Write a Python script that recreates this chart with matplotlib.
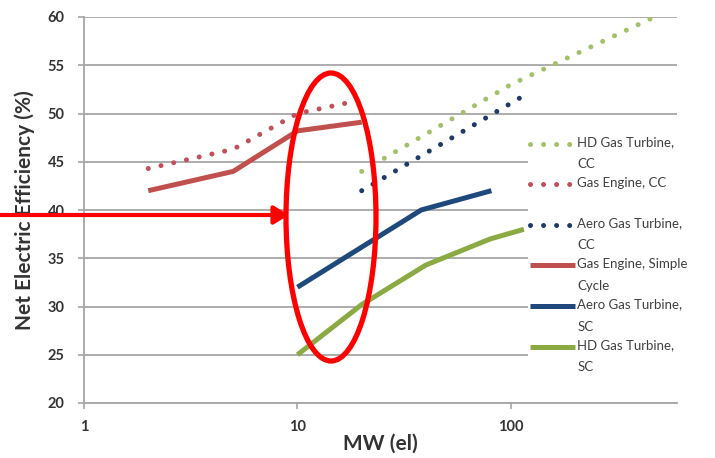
import numpy as np
import matplotlib
matplotlib.use('Agg')
from matplotlib import pyplot as plt
from matplotlib import transforms as mtransforms
from matplotlib.patches import Ellipse
from matplotlib.legend_handler import HandlerLine2D


# data (MW el, net electric efficiency %)
hd_cc_mw = [20, 100, 470]
hd_cc_eff = [44, 53, 60]

engine_cc_mw = [2, 5, 10, 18]
engine_cc_eff = [44.3, 46.3, 50, 51.2]

aero_cc_mw = [20, 110]
aero_cc_eff = [42, 51.6]

engine_sc_mw = [2, 5, 10, 20]
engine_sc_eff = [42, 44, 48.2, 49.1]

aero_sc_mw = [10, 38, 81]
aero_sc_eff = [32, 40, 42]

hd_sc_mw = [10, 20, 40, 80, 115]
hd_sc_eff = [25, 30.2, 34.3, 37, 38]

labels = ['HD Gas Turbine,\nCC', 'Gas Engine, CC\n ', 'Aero Gas Turbine,\nCC',
          'Gas Engine, Simple\nCycle', 'Aero Gas Turbine,\nSC', 'HD Gas Turbine,\nSC']

y_ticks = [20, 25, 30, 35, 40, 45, 50, 55, 60]
x_ticks = [1, 10, 100]

RED = '#C0504D'
NAVY = '#1F497D'
DOTS = (0, (0.01, 2.6))


class FirstLineHandler(HandlerLine2D):
    '''Put the legend line next to the first line of a two line label'''
    def __init__(self, shift, **kw):
        super().__init__(**kw)
        self.shift = shift

    def create_artists(self, legend, orig_handle, xdescent, ydescent,
                       width, height, fontsize, trans):
        arts = super().create_artists(legend, orig_handle, xdescent, ydescent,
                                      width, height, fontsize, trans)
        t = mtransforms.Affine2D().translate(0, self.shift) + trans
        for a in arts:
            a.set_transform(t)
        return arts


plt.rcParams['font.family'] = ['Lato', 'DejaVu Sans']

fig = plt.figure(figsize=(7.15, 4.58), dpi=100)
ax = fig.add_axes([84 / 715, 1 - 403 / 458, 593 / 715, 386 / 458])

lines = []
lines += ax.plot(hd_cc_mw, hd_cc_eff, color='#A5C06A', lw=3.6, ls=DOTS,
                 dash_capstyle='round')
lines += ax.plot(engine_cc_mw, engine_cc_eff, color='#C0505A', lw=3.6, ls=DOTS,
                 dash_capstyle='round')
lines += ax.plot(aero_cc_mw, aero_cc_eff, color='#1F3A66', lw=3.6, ls=DOTS,
                 dash_capstyle='round')
lines += ax.plot(engine_sc_mw, engine_sc_eff, color=RED, lw=3.6,
                 solid_capstyle='butt')
lines += ax.plot(aero_sc_mw, aero_sc_eff, color=NAVY, lw=3.6,
                 solid_capstyle='butt')
lines += ax.plot(hd_sc_mw, hd_sc_eff, color='#8CAA44', lw=3.6,
                 solid_capstyle='butt')

ax.set_xscale('log')
ax.set_xlim(1, 600)
ax.set_ylim(20, 60)
ax.set_xticks(x_ticks)
ax.set_xticklabels([str(v) for v in x_ticks])
ax.xaxis.set_minor_locator(matplotlib.ticker.NullLocator())
ax.set_yticks(y_ticks)
ax.grid(axis='y', color='#A6A6A6', lw=1.3)
ax.set_axisbelow(True)
for s in ['top', 'right']:
    ax.spines[s].set_visible(False)
ax.spines['left'].set_color('#A6A6A6')
ax.spines['bottom'].set_color('#A6A6A6')
ax.spines['left'].set_linewidth(1.3)
ax.spines['bottom'].set_linewidth(1.3)
ax.tick_params(colors='#A6A6A6', labelcolor='#333333', labelsize=10.5,
               length=4, width=1.2)
ax.tick_params(axis='y', pad=10)
ax.tick_params(axis='x', pad=8)
for t in ax.get_xticklabels() + ax.get_yticklabels():
    t.set_fontweight('bold')

ax.set_xlabel('MW (el)', fontsize=15, fontweight='bold', color='#333333',
              labelpad=0)
ax.set_ylabel('Net Electric Efficiency (%)', fontsize=15, fontweight='bold',
              color='#333333', labelpad=9)

hmap = {ln: FirstLineHandler(7.2) for ln in lines}
leg = ax.legend(lines, labels, loc='upper left', bbox_to_anchor=(0.737, 0.715),
                frameon=True, fontsize=9.5, handlelength=3.4, handletextpad=0.15,
                labelspacing=0.5, borderpad=0.2, handler_map=hmap)
leg.get_frame().set_edgecolor('none')
leg.get_frame().set_facecolor('white')
leg.get_frame().set_alpha(1)
for t in leg.get_texts():
    t.set_color('#404040')
    t.set_linespacing(2.0)

# the red callout drawn over the chart
fig.add_artist(Ellipse((331 / 715, 1 - 217 / 458), 90 / 715, 288 / 458,
                       transform=fig.transFigure, fill=False, ec='#FF0000',
                       lw=3.8, zorder=10))
ax.annotate('', xy=(289 / 715, 1 - 215 / 458), xycoords='figure fraction',
            xytext=(0, 1 - 215 / 458), textcoords='figure fraction',
            arrowprops=dict(arrowstyle='-|>,head_length=0.9,head_width=0.55',
                            color='#FF0000', lw=3, shrinkA=0, shrinkB=0),
            zorder=10, annotation_clip=False)

fig.savefig('out.png', dpi=100, facecolor='white')
